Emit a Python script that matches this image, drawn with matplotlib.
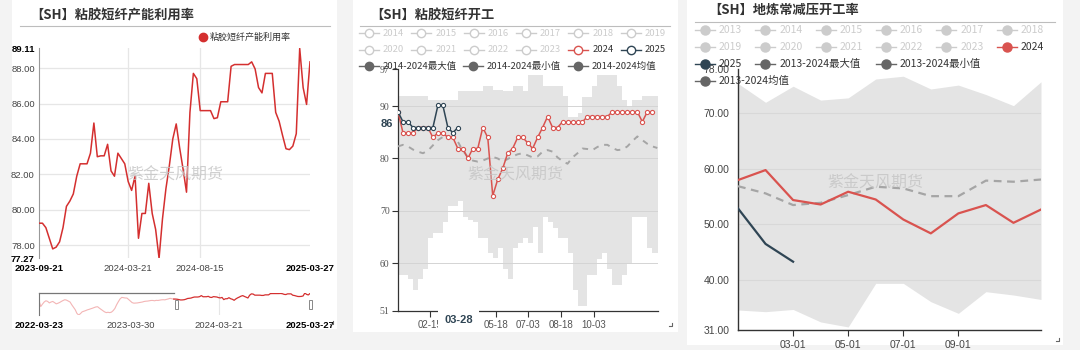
import numpy as np
import pandas as pd
import matplotlib
matplotlib.use('Agg')
import matplotlib.pyplot as plt
from matplotlib.patches import Rectangle

plt.rcParams['font.family'] = ['Noto Sans CJK SC', 'DejaVu Sans']

W, H = 1080, 350

# ---- 粘胶短纤产能利用率 (weekly, %) ----
util_hist = [77.0, 67.1, 71.0, 74.5, 76.5, 75.5, 73.0, 74.5, 75.4, 73.5,
             71.5, 72.5, 73.8, 75.5, 77.0, 78.2, 77.5, 76.0, 74.5, 70.0,
             66.0, 62.0, 56.0, 53.4, 55.5, 58.5, 59.5, 60.5, 61.7, 62.5,
             63.5, 64.4, 65.5, 66.5, 66.8, 64.5, 62.5, 60.5, 58.5, 57.3,
             57.8, 57.3, 58.0, 60.5, 64.0, 70.0, 75.0, 79.5, 82.0, 81.5,
             81.0, 80.9, 78.5, 76.0, 73.5, 72.6, 72.8, 73.0, 73.5, 74.0,
             74.5, 75.4, 75.8, 76.0, 76.5, 77.0, 77.0, 76.5, 77.2, 77.0,
             77.5, 78.0, 78.2, 78.0, 78.8, 79.5, 80.5, 79.8]
util_main = [79.25, 79.25, 79.0, 78.4, 77.8, 77.9, 78.2, 79.0, 80.2, 80.5,
             80.9, 81.9, 82.6, 82.6, 82.6, 83.2, 84.9, 83.0, 83.05, 83.05,
             83.7, 82.2, 81.9, 83.2, 82.9, 82.6, 81.6, 81.1, 81.9, 78.4,
             79.8, 79.8, 81.5, 79.8, 78.9, 77.27, 79.5, 81.2, 82.5, 84.0,
             84.85, 83.5, 82.3, 81.0, 85.5, 87.7, 87.4, 85.6, 85.6, 85.6,
             85.6, 85.15, 85.2, 86.1, 86.1, 86.1, 88.1, 88.2, 88.2, 88.2,
             88.2, 88.2, 88.35, 87.95, 86.9, 86.6, 87.7, 87.7, 87.7, 85.5,
             85.0, 84.2, 83.45, 83.4, 83.6, 84.3, 89.11, 86.9, 85.95, 88.35]
hist_dates = pd.date_range('2022-03-23', periods=len(util_hist), freq='7D')
main_dates = pd.date_range('2023-09-21', periods=len(util_main), freq='7D')
main_ticks = ['2023-09-21', '2024-03-21', '2024-08-15', '2025-03-27']
nav_ticks = ['2022-03-23', '2023-03-30', '2024-03-21', '2025-03-27']

# ---- 粘胶短纤开工 (weekly seasonal, %) ----
vsf_max = [91.9, 91.9, 91.9, 91.9, 91.9, 91.9, 91.1, 91.1, 91.1, 91.1,
           91.1, 91.1, 92.9, 92.9, 92.9, 92.9, 92.9, 93.8, 93.8, 93.0,
           93.0, 92.9, 92.9, 93.8, 93.8, 92.9, 96.0, 96.0, 96.0, 93.9,
           93.9, 93.9, 93.9, 92.0, 88.0, 88.0, 88.6, 91.7, 91.7, 93.9,
           96.0, 96.0, 96.0, 96.0, 93.9, 91.1, 89.9, 91.1, 91.1, 91.9,
           91.9, 91.9, 91.9]
vsf_min = [57.8, 57.8, 56.95, 54.9, 56.95, 58.9, 64.8, 65.8, 65.8, 67.9,
           70.9, 70.9, 71.9, 68.9, 68.3, 67.9, 64.8, 64.8, 61.9, 61.0,
           62.9, 58.9, 56.95, 62.9, 63.9, 64.8, 63.9, 66.9, 61.9, 68.9,
           67.9, 66.8, 64.8, 64.8, 61.9, 54.9, 51.9, 51.9, 57.8, 57.8,
           60.8, 61.9, 58.9, 55.9, 55.9, 57.8, 59.9, 68.9, 68.9, 68.9,
           62.9, 61.9, 61.9]
vsf_mean = [82.3, 82.6, 82.3, 81.7, 81.3, 81.0, 81.5, 82.5, 83.5, 84.1,
            84.2, 84.0, 83.2, 81.5, 80.3, 79.6, 79.4, 79.6, 80.0, 80.3,
            80.0, 79.4, 79.9, 80.4, 80.8, 81.0, 80.6, 80.2, 80.4, 81.3,
            81.6, 81.3, 80.2, 79.5, 79.0, 80.2, 81.0, 81.9, 81.8, 81.6,
            82.2, 82.6, 82.6, 82.0, 81.6, 81.7, 82.3, 83.3, 84.2, 83.5,
            82.8, 82.3, 82.0]
vsf_2024 = [88.9, 84.9, 84.9, 84.9, 85.9, 85.9, 85.9, 84.0, 84.9, 84.9,
            84.0, 84.0, 81.9, 81.9, 80.0, 81.9, 81.9, 85.9, 84.0, 72.9,
            76.0, 78.1, 81.0, 81.9, 84.0, 84.0, 83.0, 81.9, 84.0, 85.9,
            88.0, 85.9, 85.9, 87.0, 87.0, 87.0, 87.0, 87.0, 88.0, 88.0,
            88.0, 88.0, 88.0, 88.9, 88.9, 88.9, 88.9, 88.9, 88.9, 87.0,
            88.9, 88.9]
vsf_2025 = [88.9, 87.0, 87.0, 85.9, 85.9, 85.9, 85.9, 85.9, 90.1, 90.1,
            85.9, 84.9, 85.9]
vsf_xticks = [45, 91, 137, 183, 229, 275]
vsf_xlabels = ['02-15', '', '05-18', '07-03', '08-18', '10-03']

# ---- 地炼常减压开工率 (monthly seasonal, %) ----
months = ['01-01', '02-01', '03-01', '04-01', '05-01', '06-01',
          '07-01', '08-01', '09-01', '10-01', '11-01', '12-01']
ref_max = [75.4, 72.0, 74.9, 72.4, 72.8, 76.2, 76.7, 74.4, 75.1, 73.4, 71.4, 75.7]
ref_min = [34.6, 34.3, 34.7, 32.45, 31.55, 39.4, 39.4, 36.1, 34.0, 37.9, 37.3, 36.5]
ref_mean = [56.9, 55.6, 53.5, 53.9, 55.3, 56.8, 56.5, 55.1, 55.1, 57.9, 57.7, 58.1]
ref_2024 = [58.0, 59.8, 54.4, 53.6, 55.9, 54.5, 50.9, 48.4, 52.0, 53.5, 50.3, 52.7]
ref_2025 = [52.9, 46.5, 43.3]

RED1 = '#d42f2f'
RED = '#d9534f'
SLATE = '#2f4554'
BAND = '#e4e4e4'
GREY_TXT = '#cccccc'
NUM_FONT = ['Liberation Sans', 'DejaVu Sans']


def px_rect(x0, y0, x1, y1):
    return [x0 / W, 1 - y1 / H, (x1 - x0) / W, (y1 - y0) / H]


fig = plt.figure(figsize=(10.8, 3.5), dpi=100)
fig.patch.set_facecolor('#f3f3f3')

# background layer in pixel coordinates: panels, titles
bg = fig.add_axes([0, 0, 1, 1], zorder=0)
bg.set_xlim(0, W)
bg.set_ylim(H, 0)
bg.axis('off')
for x0, y0, x1, y1 in [(12, 0, 337, 329), (353, 0, 678, 332), (687, 0, 1063, 345)]:
    bg.add_patch(Rectangle((x0, y0), x1 - x0, y1 - y0, facecolor='white', edgecolor='none'))

titles = [(30, 15, '【SH】粘胶短纤产能利用率', 20, 330, 26),
          (370, 15, '【SH】粘胶短纤开工', 360, 670, 26),
          (708, 10, '【SH】地炼常减压开工率', 695, 1055, 22)]
for tx, ty, txt, lx0, lx1, ly in titles:
    bg.text(tx, ty, txt, fontsize=9.5, fontweight='bold', color='#333333', va='center', ha='left')
    bg.plot([lx0, lx1], [ly, ly], color='#bdbdbd', lw=0.8)

# ---------------- panel 1 ----------------
ax1 = fig.add_axes(px_rect(39, 48.4, 310, 258.3), zorder=1)
ax1.plot(main_dates, util_main, color=RED1, lw=1.1, zorder=3)
lo, hi = min(util_main), max(util_main)
ax1.set_xlim(main_dates[0], main_dates[-1])
ax1.set_ylim(lo, hi)
grid_vals = [78, 80, 82, 84, 86, 88]
for v in grid_vals:
    ax1.axhline(v, color='#e6e6e6', lw=0.9, zorder=1)
for d in main_ticks[1:3]:
    ax1.axvline(pd.Timestamp(d), color='#e6e6e6', lw=0.9, zorder=1)
yt = [lo] + grid_vals + [hi]
ax1.set_yticks(yt, [f'{v:.2f}' for v in yt])
ax1.set_xticks([pd.Timestamp(d) for d in main_ticks], main_ticks)
ax1.tick_params(axis='y', length=0, pad=3, labelsize=6.8, labelcolor='#444444')
ax1.tick_params(axis='x', length=0, pad=4, labelsize=6.8, labelcolor='#444444')
for lab in ax1.get_yticklabels() + ax1.get_xticklabels():
    lab.set_family(NUM_FONT)
for labs in (ax1.get_yticklabels(), ax1.get_xticklabels()):
    for lab in (labs[0], labs[-1]):
        lab.set_fontweight('bold')
        lab.set_color('black')
for s in ['top', 'right', 'bottom']:
    ax1.spines[s].set_visible(False)
ax1.spines['left'].set_color('#999999')

# navigator strip under panel 1
nav = fig.add_axes(px_rect(39, 293, 310, 315), zorder=1)
nav.plot(list(hist_dates) + [main_dates[0]], util_hist + [util_main[0]], color='#f3b5b5', lw=0.8)
nav.plot(main_dates, util_main, color=RED1, lw=0.9)
all_vals = util_hist + util_main
nav.set_ylim(min(all_vals), max(all_vals))
nav.set_xlim(pd.Timestamp(nav_ticks[0]), pd.Timestamp(nav_ticks[-1]))
nav.axvline(pd.Timestamp(nav_ticks[2]), color='#e6e6e6', lw=0.8, zorder=0)
nav.plot([pd.Timestamp(nav_ticks[0]), main_dates[0]], [max(all_vals)] * 2, color='#777777', lw=0.9, clip_on=False)
nav.set_yticks([])
nav.set_xticks([pd.Timestamp(d) for d in nav_ticks], nav_ticks)
nav.tick_params(axis='x', length=0, pad=4, labelsize=6.8, labelcolor='#444444')
for lab in nav.get_xticklabels():
    lab.set_family(NUM_FONT)
for lab in (nav.get_xticklabels()[0], nav.get_xticklabels()[-1]):
    lab.set_fontweight('bold')
    lab.set_color('black')
for s in ['top', 'right', 'bottom']:
    nav.spines[s].set_visible(False)
nav.spines['left'].set_color('#777777')
nav.patch.set_alpha(0)

# ---------------- panel 2 ----------------
ax2 = fig.add_axes(px_rect(398, 69.3, 658, 310.6), zorder=1)
days = np.arange(len(vsf_max)) * 7
band_x = np.append(days, 365)
ax2.fill_between(band_x, vsf_min + vsf_min[-1:], vsf_max + vsf_max[-1:],
                 step='post', color=BAND, lw=0, zorder=1)
for v in [60, 70, 80, 90]:
    ax2.axhline(v, color='#d4d4d4', lw=0.7, zorder=2)
ax2.plot(days, vsf_mean, color='#a5a5a5', lw=1.4, ls=(0, (3, 3)), zorder=3)
ax2.plot(days[:len(vsf_2024)], vsf_2024, color=RED, lw=1.1, marker='o', ms=3,
         mfc='white', mec=RED, mew=0.8, zorder=4)
ax2.plot(days[:len(vsf_2025)], vsf_2025, color=SLATE, lw=1.1, marker='o', ms=3,
         mfc='white', mec=SLATE, mew=0.8, zorder=5)
ax2.set_xlim(0, 365)
ax2.set_ylim(51, 97)
ax2.set_yticks([51, 60, 70, 80, 90, 97])
ax2.set_xticks(vsf_xticks, vsf_xlabels)
ax2.tick_params(axis='y', length=4, width=0.8, color='#333333', pad=2, labelsize=7,
                labelcolor='#555555')
ax2.tick_params(axis='x', length=4, width=0.8, color='#333333', pad=3, labelsize=7,
                labelcolor='#555555')
for lab in ax2.get_yticklabels():
    lab.set_family(['Liberation Serif', 'DejaVu Serif'])
for lab in ax2.get_xticklabels():
    lab.set_family(NUM_FONT)
for s in ['top', 'right']:
    ax2.spines[s].set_visible(False)
for s in ['left', 'bottom']:
    ax2.spines[s].set_color('#333333')
    ax2.spines[s].set_linewidth(0.9)

# ---------------- panel 3 ----------------
ax3 = fig.add_axes(px_rect(738, 69, 1041, 330), zorder=1)
m = np.arange(len(months))
ax3.fill_between(m, ref_min, ref_max, color=BAND, lw=0, zorder=1)
for v in [40, 50, 60, 70]:
    ax3.axhline(v, color='#d8d8d8', lw=0.8, zorder=2)
ax3.plot(m, ref_mean, color='#a5a5a5', lw=1.6, ls=(0, (3.5, 2.5)), zorder=3)
ax3.plot(m, ref_2024, color=RED, lw=1.6, zorder=4)
ax3.plot(m[:len(ref_2025)], ref_2025, color=SLATE, lw=1.6, zorder=5)
ax3.set_xlim(0, len(months) - 1)
ax3.set_ylim(31, 78)
y3 = [31, 40, 50, 60, 70, 78]
ax3.set_yticks(y3, [f'{v:.2f}' for v in y3])
ax3.set_xticks([2, 4, 6, 8], [months[i] for i in [2, 4, 6, 8]])
ax3.tick_params(axis='y', length=0, pad=6, labelsize=7.5, labelcolor='#444444')
ax3.tick_params(axis='x', length=4, width=0.8, color='#333333', pad=3, labelsize=7.5,
                labelcolor='#444444')
for lab in ax3.get_yticklabels() + ax3.get_xticklabels():
    lab.set_family(NUM_FONT)
for s in ['top', 'right']:
    ax3.spines[s].set_visible(False)
for s in ['left', 'bottom']:
    ax3.spines[s].set_color('#333333')
    ax3.spines[s].set_linewidth(1.0)

# ---------------- overlay: legends, labels, watermark ----------------
top = fig.add_axes([0, 0, 1, 1], zorder=10)
top.set_xlim(0, W)
top.set_ylim(H, 0)
top.axis('off')


def legend_item(cx, cy, label, color, txt_color, hollow, ms, fs):
    top.plot([cx - 10, cx + 10], [cy, cy], color=color, lw=1)
    top.plot(cx, cy, 'o', ms=ms, mfc='white' if hollow else color, mec=color, mew=1)
    top.text(cx + 14, cy, label, color=txt_color, fontsize=fs, va='center', ha='left')


# panel 1 legend
top.plot(203, 37, 'o', ms=6, color=RED1)
top.text(210, 37, '粘胶短纤产能利用率', fontsize=6.5, color='#333333', va='center')

# panel 2 legend
step2 = 52.3
for i, yr in enumerate(['2014', '2015', '2016', '2017', '2018', '2019']):
    legend_item(369 + step2 * i, 33, yr, GREY_TXT, GREY_TXT, True, 6, 6.8)
for i, yr in enumerate(['2020', '2021', '2022', '2023']):
    legend_item(369 + step2 * i, 50, yr, GREY_TXT, GREY_TXT, True, 6, 6.8)
legend_item(369 + step2 * 4, 50, '2024', RED, '#333333', True, 6, 6.8)
legend_item(369 + step2 * 5, 50, '2025', SLATE, '#333333', True, 6, 6.8)
for cx, lab in [(369, '2014-2024最大值'), (473, '2014-2024最小值'), (578, '2014-2024均值')]:
    legend_item(cx, 66, lab, '#666666', '#333333', False, 6, 6.8)

# panel 3 legend
step3 = 60.3
years3 = ['2013', '2014', '2015', '2016', '2017', '2018',
          '2019', '2020', '2021', '2022', '2023']
for i, yr in enumerate(years3):
    legend_item(705 + step3 * (i % 6), 30 + 17 * (i // 6), yr, GREY_TXT, GREY_TXT, False, 6.5, 7.5)
legend_item(705 + step3 * 5, 47, '2024', RED, '#333333', False, 6.5, 7.5)
legend_item(705, 64, '2025', SLATE, '#333333', False, 6.5, 7.5)
legend_item(705 + step3, 64, '2013-2024最大值', '#666666', '#333333', False, 6.5, 7.5)
legend_item(705 + step3 * 3, 64, '2013-2024最小值', '#666666', '#333333', False, 6.5, 7.5)
legend_item(705, 81, '2013-2024均值', '#666666', '#333333', False, 6.5, 7.5)

# pointer labels on panel 2
top.text(387, 124, f'{vsf_2025[-1]:.0f}', fontsize=8, fontweight='bold', color=SLATE,
         ha='center', va='center', family=NUM_FONT,
         bbox=dict(boxstyle='square,pad=0.3', fc='white', ec='none'))
top.text(458.5, 320, '03-28', fontsize=8, fontweight='bold', color=SLATE,
         ha='center', va='center', family=NUM_FONT,
         bbox=dict(boxstyle='square,pad=0.6', fc='white', ec='none'))

# navigator handles
for hx in (176, 310):
    top.add_patch(Rectangle((hx - 1.5, 300), 3, 9, fc='white', ec='#888888', lw=0.7))

# resize corner marks
for cx, cy in [(333, 324), (672, 326), (1059, 341)]:
    top.plot([cx - 3, cx, cx], [cy, cy, cy - 3], color='#666666', lw=0.8)

# watermark
for wx, wy in [(175, 175), (515, 175), (875, 183)]:
    top.text(wx, wy, '紫金天风期货', fontsize=11.5, color='#c4c4c4', alpha=0.8,
             ha='center', va='center')

fig.savefig('out.png', dpi=100, facecolor=fig.get_facecolor())
